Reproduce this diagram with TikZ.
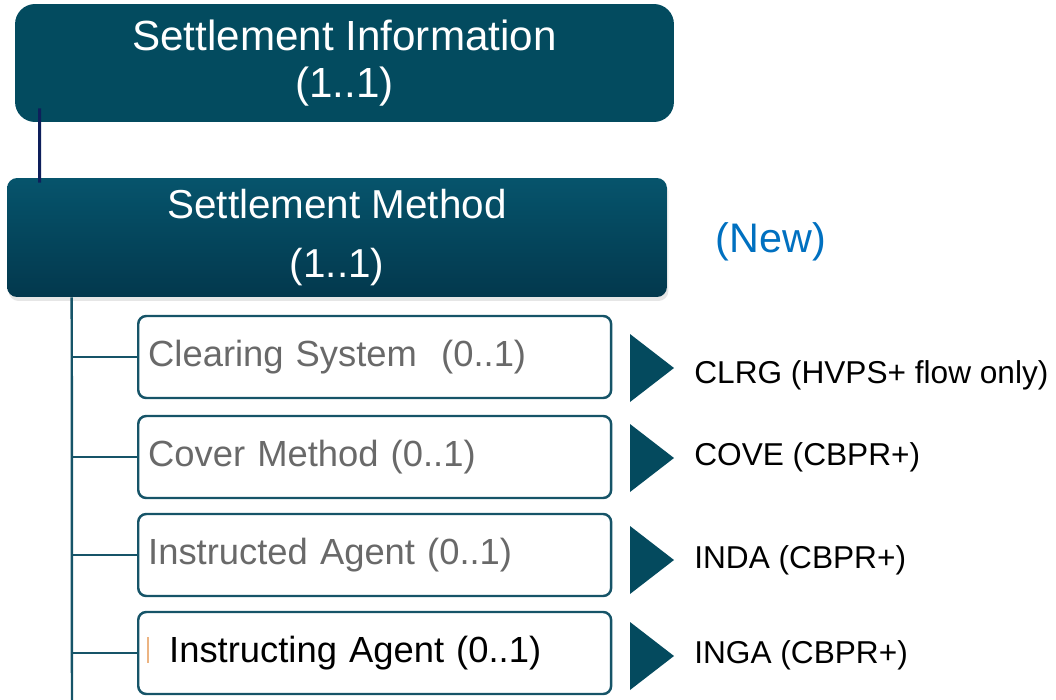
\documentclass[tikz,border=0pt]{standalone}
\usepackage{fontspec}
\setmainfont{Liberation Sans}
\usetikzlibrary{calc,shadows}

\definecolor{boxteal}{RGB}{3,75,95}
\definecolor{methodtop}{RGB}{6,84,108}
\definecolor{methodbot}{RGB}{3,56,77}
\definecolor{childline}{RGB}{22,84,104}
\definecolor{tritea}{RGB}{4,74,94}
\definecolor{linknavy}{RGB}{14,31,91}
\definecolor{itemgray}{RGB}{105,105,105}
\definecolor{newblue}{RGB}{0,112,192}
\definecolor{cursororange}{RGB}{236,180,130}

\begin{document}
\begin{tikzpicture}[x=0.02cm, y=-0.02cm,
    headbox/.style={fill=boxteal, rounded corners=0.4cm, text=white, align=center,
        inner sep=0pt, minimum width=13.18cm, minimum height=2.36cm,
        font=\fontsize{24}{26.7}\selectfont},
    methodbox/.style={top color=methodtop, bottom color=methodbot, rounded corners=0.2cm,
        text=white, align=center, inner sep=0pt, minimum width=13.2cm, minimum height=2.38cm,
        drop shadow={shadow xshift=0.03cm, shadow yshift=-0.08cm, opacity=0.2},
        font=\fontsize{23}{34}\selectfont},
    childbox/.style={draw=childline, line width=1.4pt, fill=white, rounded corners=0.16cm,
        minimum width=9.46cm, minimum height=1.64cm, inner xsep=0.2cm, text width=9.06cm,
        align=left, anchor=west, text=itemgray, font=\fontsize{20.7}{25}\selectfont},
    codelabel/.style={anchor=west, inner sep=0pt, font=\fontsize{18}{22}\selectfont},
    branch/.style={draw=childline, line width=1.4pt},
    link/.style={draw=linknavy, line width=1.7pt}]

    % Fix the page
    \useasboundingbox (0,0) rectangle (1056,700);

    % Parent boxes
    \node[headbox] (info) at (344.5,63) {Settlement Information\\(1..1)};
    \node[methodbox] (method) at (337,237.5) {Settlement Method\\(1..1)};
    \node[text=newblue, inner sep=0pt, font=\fontsize{23.5}{28}\selectfont] (new) at (771,242) {(New)};

    % Link between parents
    \draw[link] ($(info.south west)+(25,-14)$) -- ($(method.north west)+(33,5)$);

    % Trunk
    \coordinate (trunktop) at ($(method.south west)+(65,0)$);
    \coordinate (trunkend) at (72,702);
    \draw[branch] (trunktop) -- (trunkend);

    % Child elements
    \node[childbox] (c1) at (137,357) {Clearing System\ \ (0..1)};
    \node[childbox] (c2) at (137,457) {Cover Method (0..1)};
    \node[childbox] (c3) at (137,555) {Instructed Agent (0..1)};
    \node[childbox, text=black, inner xsep=0.62cm, text width=8.22cm] (c4) at (137,653) {Instructing Agent (0..1)};
    \draw[cursororange, line width=0.6pt] (148,637) -- (148,663);

    \foreach \n in {1,...,4}
        \draw[branch] (c\n.west -| trunktop) -- (c\n.west);

    % Markers and codes
    \foreach \y in {368,458,560,656}
        \fill[tritea] (630,\y-34) -- (674,\y) -- (630,\y+34) -- cycle;

    \node[codelabel] (l1) at (694,375) {CLRG (HVPS+ flow only)};
    \node[codelabel] (l2) at (694,457) {COVE (CBPR+)};
    \node[codelabel] (l3) at (694,560) {INDA (CBPR+)};
    \node[codelabel] (l4) at (694,655) {INGA (CBPR+)};
\end{tikzpicture}
\end{document}
